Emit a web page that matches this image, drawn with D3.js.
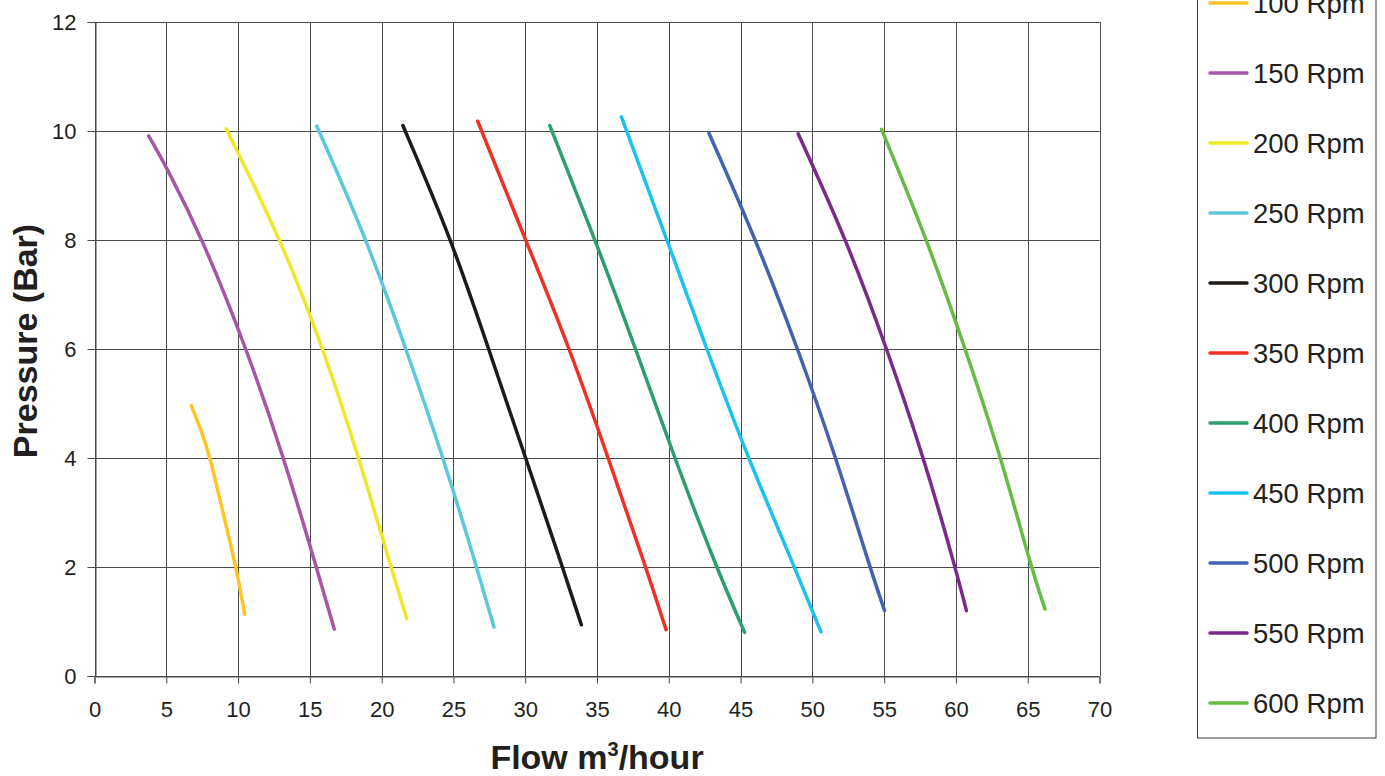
<!DOCTYPE html>
<html><head><meta charset="utf-8">
<script src="https://cdn.jsdelivr.net/npm/d3@7"></script>
<style>body{margin:0;background:#fff;}svg{display:block;font-family:"Liberation Sans",Arial,sans-serif;}</style>
</head><body><svg id="c" width="1385" height="776"></svg>
<script>
const seriesNames = ["100 Rpm","150 Rpm","200 Rpm","250 Rpm","300 Rpm","350 Rpm","400 Rpm","450 Rpm","500 Rpm","550 Rpm","600 Rpm"];
const seriesColors = ["#FFC425","#A855A5","#EEE82A","#5BC8DC","#1F1A17","#EE3124","#2E9E6E","#1BC2F0","#4462AE","#7B2A8C","#66BB44"];
const rpm100 = [[6.74,4.96],[7.45,4.5],[8.07,4.0],[8.94,3.0],[9.87,2.0],[10.46,1.13]];
const rpm150 = [[3.77,9.91],[5.0,9.35],[7.56,8.0],[10.6,6.0],[13.2,4.0],[15.45,2.0],[16.7,0.86]];
const rpm200 = [[9.17,10.04],[13.0,8.0],[15.95,6.0],[18.42,4.0],[20.65,2.0],[21.75,1.05]];
const rpm250 = [[15.48,10.09],[18.98,8.0],[21.7,6.0],[24.3,4.0],[26.62,2.0],[27.82,0.9]];
const rpm300 = [[21.48,10.1],[24.88,8.0],[27.45,6.0],[30.03,4.0],[32.6,2.0],[33.91,0.94]];
const rpm350 = [[26.69,10.18],[30.03,8.0],[33.12,6.0],[35.78,4.0],[38.4,2.0],[39.81,0.85]];
const rpm400 = [[31.71,10.1],[34.88,8.0],[37.7,6.0],[40.4,4.0],[43.3,2.0],[45.28,0.8]];
const rpm450 = [[36.7,10.26],[39.87,8.0],[42.64,6.0],[45.51,4.0],[48.76,2.0],[50.6,0.81]];
const rpm500 = [[42.8,9.96],[46.08,8.0],[49.0,6.0],[51.66,4.0],[54.0,2.0],[55.03,1.2]];
const rpm550 = [[49.01,9.95],[52.38,8.0],[55.2,6.0],[57.77,4.0],[59.95,2.0],[60.73,1.2]];
const rpm600 = [[54.82,10.03],[58.0,8.0],[60.66,6.0],[63.16,4.0],[65.23,2.0],[66.2,1.23]];
const seriesData = [rpm100,rpm150,rpm200,rpm250,rpm300,rpm350,rpm400,rpm450,rpm500,rpm550,rpm600];
const xTicks = [0,5,10,15,20,25,30,35,40,45,50,55,60,65,70];
const yTicks = [0,2,4,6,8,10,12];

const svg = d3.select("#c");
const L = 94.5, R = 1099.5, T = 22, B = 676;
const x = d3.scaleLinear().domain([0,70]).range([L,R]);
const y = d3.scaleLinear().domain([0,12]).range([B,T]);
const gridColor = "#4a4a4a";
const font = "Liberation Sans, Arial, sans-serif";

// grid
svg.append("g").selectAll("line").data(yTicks).join("line")
  .attr("x1",L).attr("x2",R).attr("y1",d=>Math.round(y(d))+0.5).attr("y2",d=>Math.round(y(d))+0.5)
  .attr("stroke",gridColor).attr("stroke-width",1);
svg.append("g").selectAll("line").data(xTicks).join("line")
  .attr("x1",d=>Math.round(x(d))+0.5).attr("x2",d=>Math.round(x(d))+0.5).attr("y1",T).attr("y2",B)
  .attr("stroke",gridColor).attr("stroke-width",1);

// axes
const xAxis = d3.axisBottom(x).tickValues(xTicks).tickSize(7).tickPadding(18).tickFormat(d3.format("d"));
const gx = svg.append("g").attr("transform",`translate(0,${Math.round(B)+0.5})`).call(xAxis);
gx.select(".domain").attr("stroke",gridColor);
gx.selectAll(".tick line").attr("stroke",gridColor);
gx.selectAll("text").attr("font-size",22).attr("fill","#231F20").attr("font-family",font);
const yAxis = d3.axisLeft(y).tickValues(yTicks).tickSize(8).tickPadding(11).tickFormat(d3.format("d"));
const gy = svg.append("g").attr("transform",`translate(${Math.round(L)+0.5},0)`).call(yAxis);
gy.select(".domain").attr("stroke",gridColor);
gy.selectAll(".tick line").attr("stroke",gridColor);
gy.selectAll("text").attr("font-size",22).attr("fill","#231F20").attr("font-family",font);

// curves
const line = d3.line().x(d=>x(d[0])).y(d=>y(d[1])).curve(d3.curveBasis);
svg.append("g").selectAll("path").data(seriesData).join("path")
  .attr("d",line).attr("fill","none")
  .attr("stroke",(d,i)=>seriesColors[i]).attr("stroke-width",3.5).attr("stroke-linecap","round");

// titles
svg.append("text").attr("x",597).attr("y",769).attr("text-anchor","middle")
  .attr("font-size",34).attr("font-weight","bold").attr("fill","#231F20")
  .html('Flow m<tspan dy="-13" font-size="20">3</tspan><tspan dy="13">/hour</tspan>');
svg.append("text").attr("transform","translate(37,341) rotate(-90)").attr("text-anchor","middle")
  .attr("font-size",34).attr("font-weight","bold").attr("fill","#231F20").text("Pressure (Bar)");

// legend
const lg = svg.append("g");
lg.append("rect").attr("x",1197.5).attr("y",-20).attr("width",178.5).attr("height",758)
  .attr("fill","none").attr("stroke","#3a3a3a").attr("stroke-width",1);
const items = lg.selectAll("g.it").data(seriesNames).join("g").attr("class","it")
  .attr("transform",(d,i)=>`translate(0,${3+i*70})`);
items.append("line").attr("x1",1210).attr("x2",1247).attr("y1",0).attr("y2",0)
  .attr("stroke",(d,i)=>seriesColors[i]).attr("stroke-width",3.5).attr("stroke-linecap","round");
items.append("text").attr("x",1253).attr("y",10).attr("font-size",27.5).attr("fill","#231F20").text(d=>d);
</script></body></html>
